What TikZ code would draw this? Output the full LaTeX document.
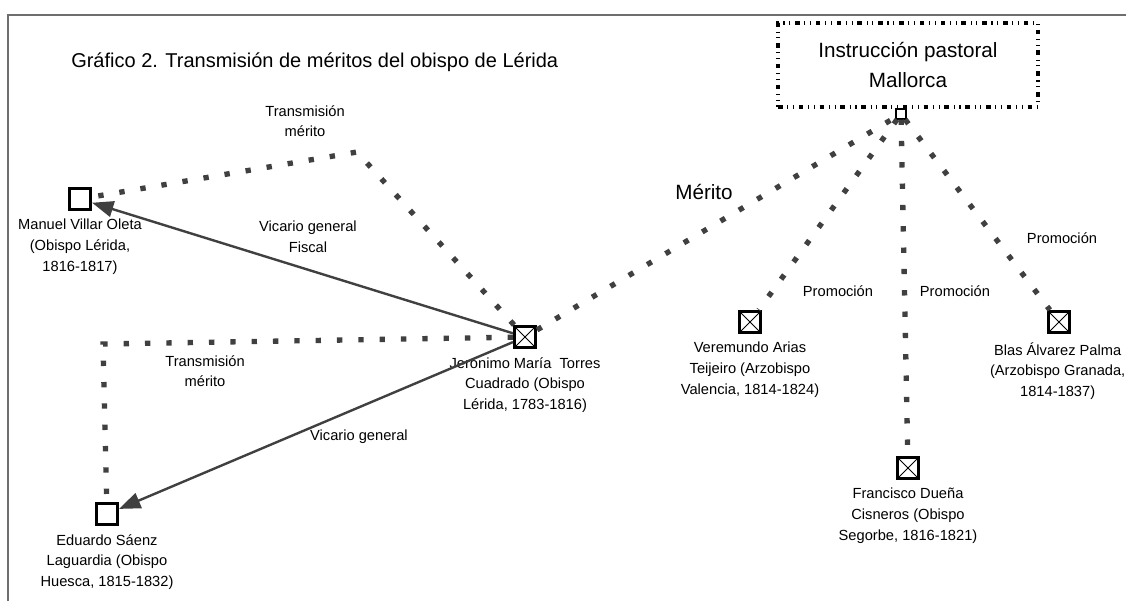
\documentclass[tikz,border=0pt]{standalone}
\usepackage{fontspec}
\setmainfont{Liberation Sans}
\usetikzlibrary{positioning,arrows.meta}
\definecolor{LinkGray}{HTML}{404040}
\definecolor{FrameGray}{HTML}{6E6E6E}

\tikzset{
	person/.style={draw, fill=white, line width=2.6pt, minimum size=15.5pt, inner sep=0pt},
	crossed/.style={person, path picture={\draw[line width=0.7pt] (path picture bounding box.north west) -- (path picture bounding box.south east) (path picture bounding box.north east) -- (path picture bounding box.south west);}},
	personlabel/.style={align=center, inner sep=0pt, font=\fontsize{11}{15.5}\selectfont},
	relation/.style={LinkGray, line width=1.8pt, -{Triangle[length=16pt,width=12pt]}},
	merit/.style={LinkGray, line width=4pt, dash pattern=on 4pt off 12pt},
	sourcebox/.style={draw, line width=3pt, dash pattern=on 3.5pt off 3.5pt on 0.8pt off 3.5pt on 0.8pt off 3.5pt, minimum width=195pt, minimum height=63pt, align=center, font=\fontsize{15.5}{22.5}\selectfont}
}

\begin{document}
\begin{tikzpicture}[x=0.75pt, y=-0.75pt, every node/.style={black}]
	\useasboundingbox (0,0) rectangle (1126,601);
	\draw[FrameGray, line width=1.2pt] (8,601) -- (8,15) -- (1126,15);
	
	\node[anchor=west, inner sep=0pt, font=\fontsize{15}{18}\selectfont] (title) at (71,62) {Gráfico 2. Transmisión de méritos del obispo de Lérida};
	
	\node[sourcebox] (mallorca) at (908,65) {Instrucción pastoral\\Mallorca};
	\node[draw, fill=white, line width=0.8pt, minimum size=7.5pt, inner sep=0pt] (hub) at (901,114) {};
	
	\node[person] (villar) at (80,199) {};
	\node[personlabel, below=6pt of villar] (villarname) {Manuel Villar Oleta\\(Obispo Lérida,\\1816-1817)};
	
	\node[person] (saenz) at (107,514) {};
	\node[personlabel, below=6pt of saenz] (saenzname) {Eduardo Sáenz\\Laguardia (Obispo\\Huesca, 1815-1832)};
	
	\node[crossed] (torres) at (525,337) {};
	\node[personlabel, below=6pt of torres] (torresname) {Jerónimo María~ Torres\\Cuadrado (Obispo\\Lérida, 1783-1816)};
	
	\node[crossed] (arias) at (750,322) {};
	\node[personlabel, below=6pt of arias] (ariasname) {Veremundo Arias\\Teijeiro (Arzobispo\\Valencia, 1814-1824)};
	
	\node[crossed] (duena) at (908,468) {};
	\node[personlabel, below=6pt of duena] (duenaname) {Francisco Dueña\\Cisneros (Obispo\\Segorbe, 1816-1821)};
	
	\node[crossed] (alvarez) at (1059,322) {};
	\node[personlabel, below=6pt of alvarez, xshift=-1pt] (alvarezname) {Blas Álvarez Palma\\(Arzobispo Granada,\\1814-1837)};
	
	\coordinate (bendup) at (357,152);
	\coordinate (bendleft) at (103,344);
	\draw[merit] (torres) -- (bendup) -- (villar);
	\draw[merit] (torres) -- (bendleft) -- (saenz);
	\draw[merit] (torres) -- (hub);
	\draw[merit] (hub) -- (arias);
	\draw[merit] (hub) -- (duena);
	\draw[merit] (hub) -- (alvarez);
	
	\draw[relation] (torres) -- (villar);
	\draw[relation] (torres) -- (saenz);
	
	\node[personlabel] (transup) at (305,121) {Transmisión\\mérito};
	\node[personlabel] (transdown) at (205,371) {Transmisión\\mérito};
	\node[personlabel] (vicfiscal) at (308,237) {Vicario general\\Fiscal};
	\node[personlabel] (vicgen) at (359,437) {Vicario general};
	\node[inner sep=0pt, font=\fontsize{15.5}{18}\selectfont] (meritlabel) at (704,192) {Mérito};
	\node[personlabel] (promarias) at (838,291) {Promoción};
	\node[personlabel] (promduena) at (955,291) {Promoción};
	\node[personlabel] (promalvarez) at (1062,238) {Promoción};
\end{tikzpicture}
\end{document}
